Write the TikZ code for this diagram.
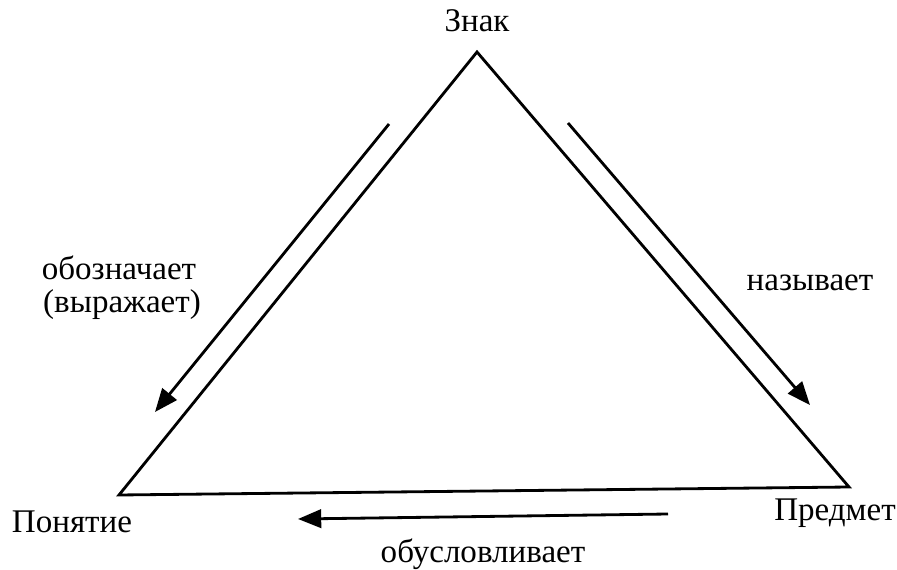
\documentclass[tikz,border=0pt]{standalone}
\usepackage{fontspec}
\setmainfont{Liberation Serif}
\usetikzlibrary{arrows.meta}
\begin{document}
\begin{tikzpicture}[>={Triangle[length=5.8mm,width=4.6mm]},line join=miter,font=\fontsize{23.5}{28}\selectfont,line width=2pt]
			\useasboundingbox (0,0) rectangle (22.425,14.225);
			% vertices
			\coordinate (sign) at (11.925,12.925);
			\coordinate (concept) at (2.975,1.85);
			\coordinate (object) at (21.225,2.05);
			\draw (sign)--(object)--(concept)--cycle;
			% arrows
			\coordinate (l1) at (9.725,11.125);
			\coordinate (l2) at (3.875,3.925);
			\coordinate (r1) at (14.2,11.15);
			\coordinate (r2) at (20.25,4.1);
			\coordinate (b1) at (16.7,1.375);
			\coordinate (b2) at (7.45,1.25);
			\draw[->] (l1)--(l2);
			\draw[->] (r1)--(r2);
			\draw[->] (b1)--(b2);
			% labels
			\node[anchor=base] (tsign) at (11.925,13.425) {Знак};
			\node[anchor=base] (tconcept) at (1.8,0.925) {Понятие};
			\node[anchor=base] (tobject) at (20.875,1.225) {Предмет};
			\node[anchor=base] (tdenote) at (2.975,7.225) {обозначает};
			\node[anchor=base] (texpress) at (3.05,6.4) {(выражает)};
			\node[anchor=base] (tname) at (20.25,6.95) {называет};
			\node[anchor=base] (tcause) at (12.075,0.175) {обусловливает};
			\end{tikzpicture}
\end{document}
